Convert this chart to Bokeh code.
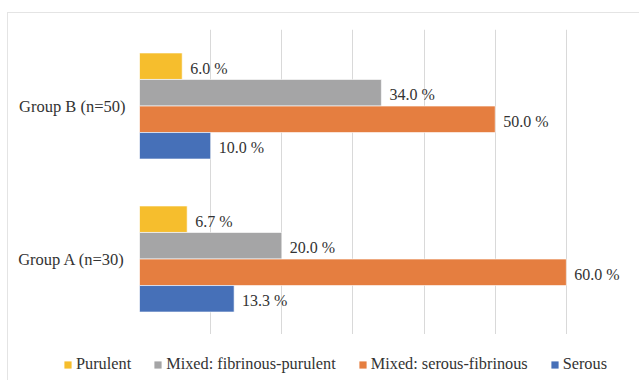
from bokeh.plotting import figure
from bokeh.models import (ColumnDataSource, FactorRange, Range1d, Legend, LegendItem,
                          SingleIntervalTicker)
from bokeh.transform import dodge
from bokeh.core.properties import value
from bokeh.embed import file_html
from bokeh.resources import INLINE

# Categories (bottom to top) and series values in percent
groups = ["Group A (n=30)", "Group B (n=50)"]
series_names = ["Purulent", "Mixed: fibrinous-purulent", "Mixed: serous-fibrinous", "Serous"]
purulent = [6.7, 6.0]
fibrinous_purulent = [20.0, 34.0]
serous_fibrinous = [60.0, 50.0]
serous = [13.3, 10.0]

series_values = [purulent, fibrinous_purulent, serous_fibrinous, serous]
colors = ["#F6BE2D", "#A5A5A6", "#E57E40", "#4670B8"]
offsets = [0.26, 0.087, -0.087, -0.26]
bar_h = 0.173

FONT = "Liberation Serif"
TEXT_COLOR = "#333333"
BORDER = "1px solid #e4e4e4"

# ---- main bar chart -------------------------------------------------------
p = figure(
    width=632, height=322,
    y_range=FactorRange(*groups, range_padding=0),
    x_range=Range1d(0, 70),
    output_backend="svg", toolbar_location=None,
    min_border_left=131, min_border_right=3, min_border_top=16, min_border_bottom=0,
    margin=(12, 0, 0, 7),
    styles={"border-top": BORDER, "border-left": BORDER},
)
p.outline_line_color = None
p.background_fill_color = "white"
p.border_fill_color = "white"

# vertical gridlines every 10 %
p.xaxis.ticker = SingleIntervalTicker(interval=10)
p.xaxis.visible = False
p.xgrid.grid_line_color = "#d9d9d9"
p.xgrid.grid_line_width = 1
p.ygrid.grid_line_color = None

p.yaxis.axis_line_color = None
p.yaxis.major_tick_line_color = None
p.yaxis.minor_tick_line_color = None
p.yaxis.major_tick_out = 0
p.yaxis.major_tick_in = 0
p.yaxis.major_label_standoff = 14
p.yaxis.major_label_text_font = FONT
p.yaxis.major_label_text_font_size = "16.5px"
p.yaxis.major_label_text_color = TEXT_COLOR

sources = []
for name, vals, col, off in zip(series_names, series_values, colors, offsets):
    src = ColumnDataSource(dict(
        group=groups,
        val=vals,
        label=[f"{v:.1f} %" for v in vals],
    ))
    sources.append(src)
    p.hbar(y=dodge("group", off, range=p.y_range), left=0, right="val",
           height=bar_h, source=src, fill_color=col,
           line_color="white", line_width=0.6)
    p.text(x="val", y=dodge("group", off, range=p.y_range), text="label",
           source=src, x_offset=8, y_offset=2,
           text_font=value(FONT), text_font_size="16px",
           text_color=TEXT_COLOR, text_baseline="middle", text_align="left")

# ---- legend strip underneath ---------------------------------------------
# Same series drawn against a view window that holds no bars, so only the
# legend (with its colour swatches) is visible in this strip.
leg = figure(
    width=632, height=46,
    y_range=FactorRange(*groups), x_range=Range1d(-2, -1),
    output_backend="svg", toolbar_location=None,
    x_axis_location=None, y_axis_location=None,
    min_border=0,
    margin=(0, 0, 0, 7),
    styles={"border-left": BORDER},
)
leg.outline_line_color = None
leg.grid.visible = False
leg.background_fill_color = "white"
leg.border_fill_color = "white"

items = []
for name, src, col in zip(series_names, sources, colors):
    r = leg.hbar(y="group", left=0, right="val", height=bar_h, source=src,
                 fill_color=col, line_color=None)
    items.append(LegendItem(label=name, renderers=[r], index=0))

legend = Legend(
    items=items, orientation="horizontal", location=(55, 6),
    label_text_font=FONT, label_text_font_size="16.3px", label_text_color=TEXT_COLOR,
    glyph_width=9, glyph_height=9, label_standoff=4, spacing=22, label_height=20,
    padding=0, margin=0, border_line_color=None, background_fill_alpha=0,
)
leg.add_layout(legend, "center")

open("out.html", "w").write(file_html([p, leg], INLINE))
